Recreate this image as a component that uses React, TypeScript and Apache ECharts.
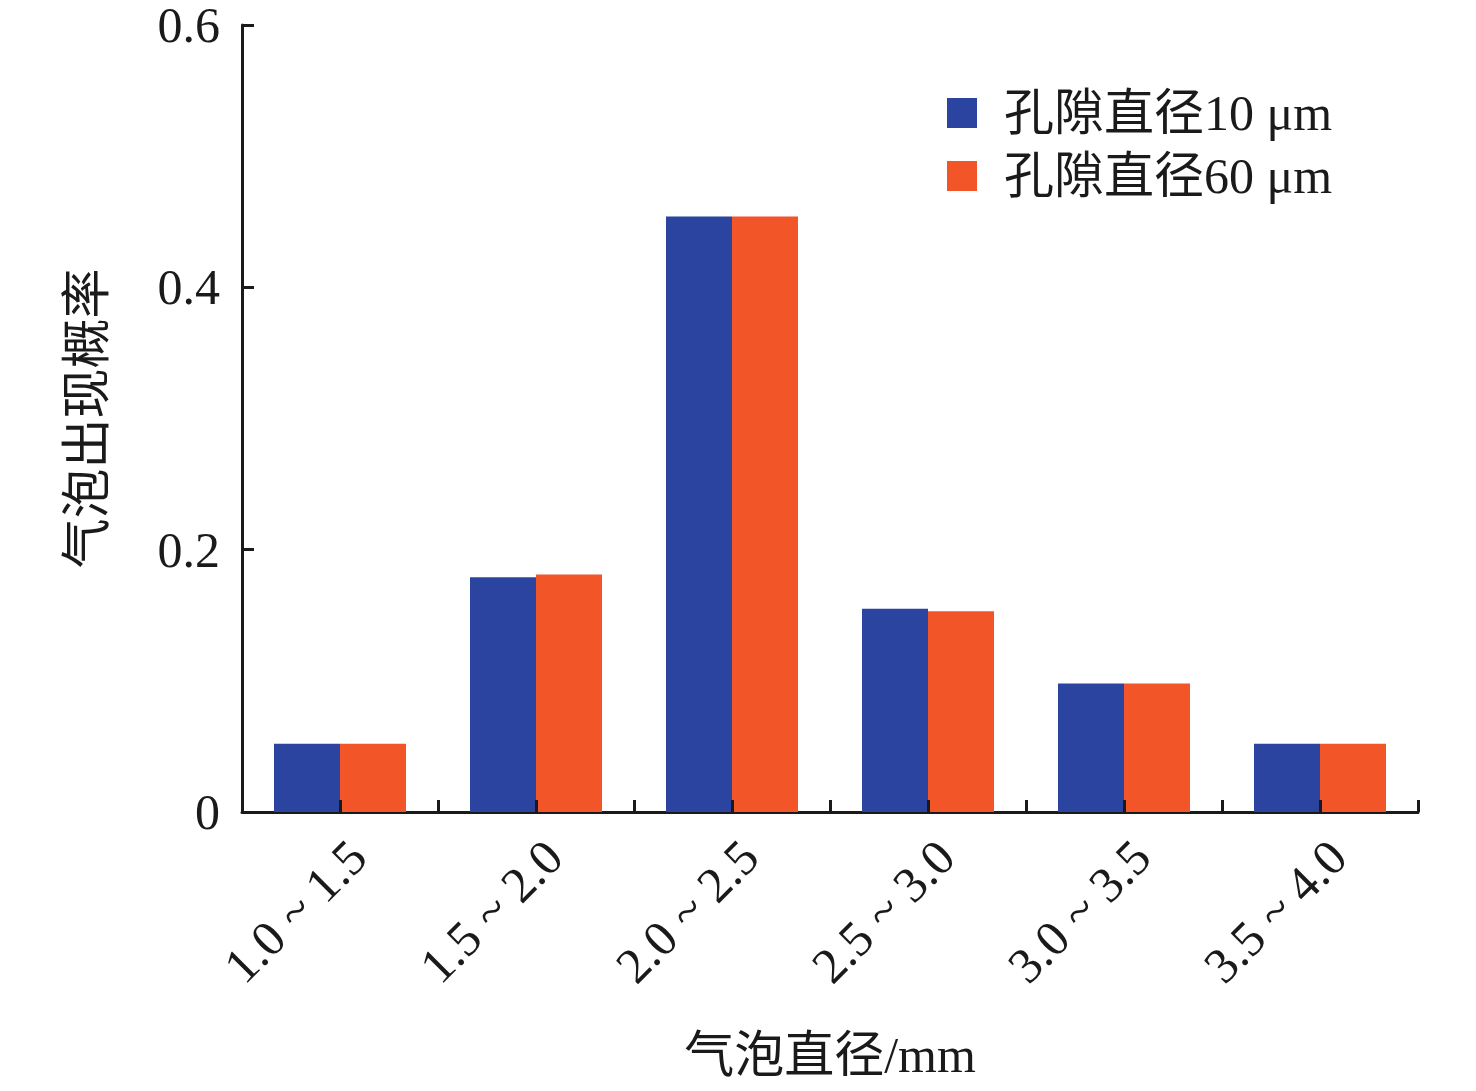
import React, { useEffect, useRef } from "react";
import * as echarts from "echarts";

const categories = ["1.0 ~ 1.5", "1.5 ~ 2.0", "2.0 ~ 2.5", "2.5 ~ 3.0", "3.0 ~ 3.5", "3.5 ~ 4.0"];
const series10 = [0.052, 0.179, 0.454, 0.155, 0.098, 0.052];
const series60 = [0.052, 0.181, 0.454, 0.153, 0.098, 0.052];
const yTicks = [0, 0.2, 0.4, 0.6];
const seriesNames = ["孔隙直径10 μm", "孔隙直径60 μm"];

const FONT = "'Liberation Serif', 'Times New Roman', 'Noto Sans CJK SC', serif";
const INK = "#1a1a1a";

export default function App() {
  const ref = useRef<HTMLDivElement>(null);
  useEffect(() => {
    document.body.style.margin = "0";
    if (!ref.current) return;
    const chart = echarts.init(ref.current, null, { renderer: "svg" });
    chart.setOption({
      animation: false,
      backgroundColor: "#ffffff",
      textStyle: { fontFamily: FONT, color: INK },
      grid: { left: 242, right: 58, top: 25, bottom: 279, containLabel: false },
      legend: {
        orient: "vertical",
        left: 942,
        top: 83,
        itemWidth: 30,
        itemHeight: 30,
        itemGap: 13,
        icon: "rect",
        textStyle: { fontFamily: FONT, fontSize: 50, color: INK, padding: [0, 0, 0, 22] },
        data: seriesNames,
      },
      xAxis: [
        {
          type: "category",
          data: categories,
          axisLine: { lineStyle: { color: INK, width: 3 } },
          axisTick: { show: true, inside: true, length: 12, interval: 0, lineStyle: { color: INK, width: 3 } },
          axisLabel: {
            interval: 0,
            rotate: 45,
            margin: 19,
            fontSize: 50,
            fontFamily: FONT,
            color: INK,
            verticalAlign: "top",
          },
          name: "气泡直径/mm",
          nameLocation: "middle",
          nameGap: 218,
          nameTextStyle: { fontSize: 50, fontFamily: FONT, color: INK },
        },
        {
          type: "category",
          data: categories,
          position: "bottom",
          axisLine: { show: false },
          axisTick: { show: true, inside: true, length: 12, alignWithLabel: true, interval: 0, lineStyle: { color: INK, width: 3 } },
          axisLabel: { show: false },
          z: 10,
        },
      ],
      yAxis: {
        type: "value",
        min: 0,
        max: 0.6,
        interval: 0.2,
        splitLine: { show: false },
        axisLine: { show: true, lineStyle: { color: INK, width: 3 } },
        axisTick: { show: true, inside: true, length: 12, lineStyle: { color: INK, width: 3 } },
        axisLabel: {
          fontSize: 50,
          margin: 22,
          fontFamily: FONT,
          color: INK,
          formatter: (v: number) => {
            const t = yTicks.find((y) => Math.abs(y - v) < 1e-9);
            return t === 0 ? "0" : String(t !== undefined ? t.toFixed(1) : v);
          },
        },
        name: "气泡出现概率",
        nameLocation: "middle",
        nameGap: 130,
        nameRotate: 90,
        nameTextStyle: { fontSize: 50, fontFamily: FONT, color: INK },
      },
      series: [
        {
          name: seriesNames[0],
          type: "bar",
          data: series10,
          barWidth: 66,
          barGap: "0%",
          itemStyle: { color: "#2B44A0" },
        },
        {
          name: seriesNames[1],
          type: "bar",
          data: series60,
          barWidth: 66,
          barGap: "0%",
          itemStyle: { color: "#F25528" },
        },
      ],
    });
    return () => chart.dispose();
  }, []);
  return <div ref={ref} style={{ width: 1476, height: 1091 }} />;
}
